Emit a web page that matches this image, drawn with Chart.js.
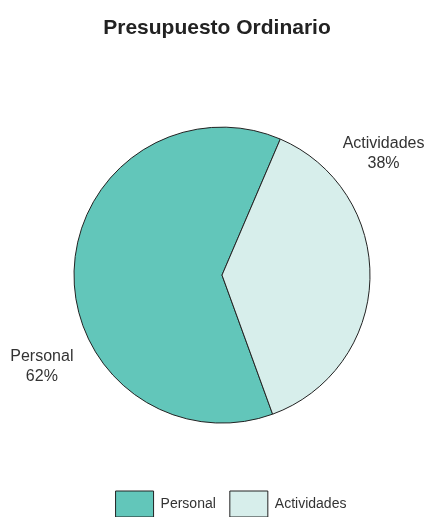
<!DOCTYPE html>
<html>
<head>
<meta charset="utf-8">
<script src="https://cdn.jsdelivr.net/npm/chart.js@4"></script>
<style>
  html, body { margin: 0; padding: 0; background: #fff; }
  #wrap { width: 428px; height: 517px; }
</style>
</head>
<body>
<div id="wrap"><canvas id="chart"></canvas></div>
<script>
const categories = ["Personal", "Actividades"];
const shares = [62, 38];
const colors = ["#62c6ba", "#d7eeeb"];
const title = "Presupuesto Ordinario";

// where the outside labels sit, relative to the slice middle
const labelShift = [-28.5, -38.5];
const labelDistance = 202;

const sliceLabels = {
  id: "sliceLabels",
  afterDatasetsDraw(chart) {
    const ctx = chart.ctx;
    const arcs = chart.getDatasetMeta(0).data;
    ctx.save();
    ctx.font = "16px 'Liberation Sans', Arial, sans-serif";
    ctx.fillStyle = "#333";
    ctx.textAlign = "center";
    ctx.textBaseline = "middle";
    arcs.forEach((arc, i) => {
      const mid = (arc.startAngle + arc.endAngle) / 2 + labelShift[i] * Math.PI / 180;
      const x = arc.x + Math.cos(mid) * labelDistance;
      const y = arc.y + Math.sin(mid) * labelDistance;
      ctx.fillText(categories[i], x, y - 10);
      ctx.fillText(shares[i] + "%", x, y + 10);
    });
    ctx.restore();
  },
};

// nudge title and legend sideways a little
const nudge = {
  id: "nudge",
  afterLayout(chart) {
    chart.titleBlock.left -= 5;
    chart.titleBlock.right -= 5;
    chart.legend.left += 9;
    chart.legend.right += 9;
  },
};

new Chart(document.getElementById("chart"), {
  type: "pie",
  data: {
    labels: categories,
    datasets: [
      {
        data: shares,
        backgroundColor: colors,
        borderColor: "#222",
        borderWidth: 1,
        radius: 148,
      },
    ],
  },
  plugins: [sliceLabels, nudge],
  options: {
    responsive: true,
    maintainAspectRatio: false,
    animation: false,
    rotation: 160,
    layout: {
      padding: { left: 16, right: 0, top: 0, bottom: -10 },
    },
    plugins: {
      title: {
        display: true,
        text: title,
        color: "#222",
        font: { family: "'Liberation Sans', Arial, sans-serif", size: 21, weight: "bold" },
        padding: { top: 16, bottom: 32 },
      },
      legend: {
        position: "bottom",
        labels: {
          boxWidth: 38,
          boxHeight: 26,
          padding: 14,
          color: "#333",
          font: { family: "'Liberation Sans', Arial, sans-serif", size: 14 },
        },
      },
      tooltip: { enabled: false },
    },
  },
});
</script>
</body>
</html>
